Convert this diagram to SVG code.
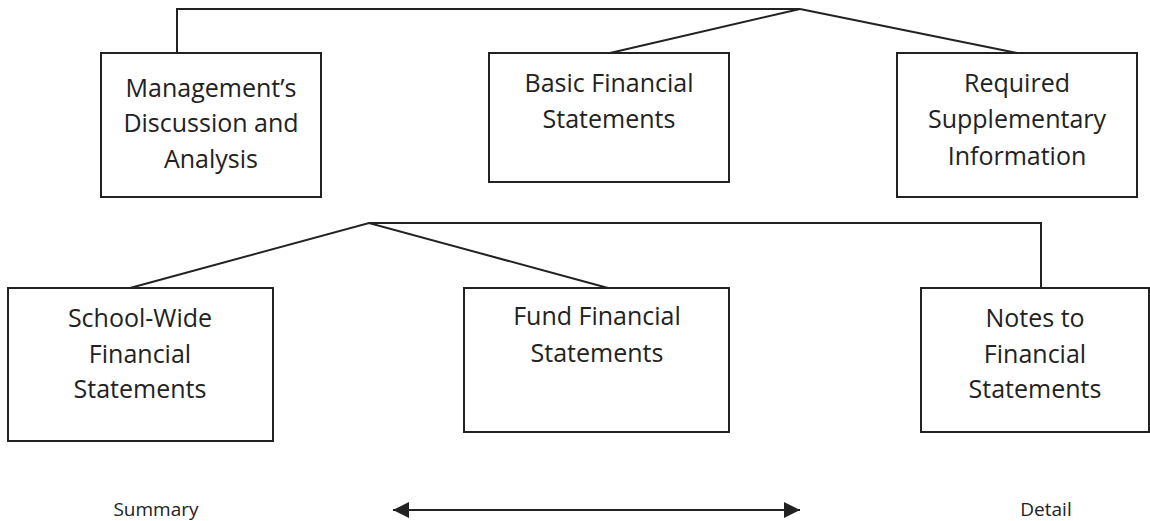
<svg xmlns="http://www.w3.org/2000/svg" width="1150" height="521" viewBox="0 0 1150 521">
<defs>
<style>
.box{fill:#fff;stroke:#222;stroke-width:2}
.ln{fill:none;stroke:#222;stroke-width:2}
.t{font-family:"Open Sans","Liberation Sans",sans-serif;font-size:25px;fill:#222;text-anchor:middle}
.s{font-family:"Open Sans","Liberation Sans",sans-serif;font-size:19px;fill:#222;text-anchor:middle}
</style>
<marker id="ah" viewBox="0 0 16 16" refX="16" refY="8" markerWidth="16" markerHeight="16" markerUnits="userSpaceOnUse" orient="auto-start-reverse">
<path d="M0,0 L16,8 L0,16 Z" fill="#222"/>
</marker>
</defs>
<rect width="1150" height="521" fill="#fff"/>
<g id="connectors">
<polyline class="ln" points="177,53 177,9 800,9 610,53"/>
<line class="ln" x1="800" y1="9" x2="1017" y2="53"/>
<polyline class="ln" points="130,288 369,223 608,288"/>
<polyline class="ln" points="369,223 1041,223 1041,288"/>
<line class="ln" x1="393" y1="510" x2="800" y2="510" marker-start="url(#ah)" marker-end="url(#ah)"/>
</g>
<g id="mda">
<rect class="box" x="101" y="53" width="220" height="144"/>
<text class="t" x="211" y="97">Management’s</text>
<text class="t" x="211" y="132">Discussion and</text>
<text class="t" x="211" y="168">Analysis</text>
</g>
<g id="bfs">
<rect class="box" x="489" y="53" width="240" height="129"/>
<text class="t" x="609" y="92">Basic Financial</text>
<text class="t" x="609" y="128">Statements</text>
</g>
<g id="rsi">
<rect class="box" x="897" y="53" width="240" height="144"/>
<text class="t" x="1017" y="92">Required</text>
<text class="t" x="1017" y="128">Supplementary</text>
<text class="t" x="1017" y="165">Information</text>
</g>
<g id="swfs">
<rect class="box" x="8" y="288" width="265" height="153"/>
<text class="t" x="140" y="327">School-Wide</text>
<text class="t" x="140" y="363">Financial</text>
<text class="t" x="140" y="398">Statements</text>
</g>
<g id="ffs">
<rect class="box" x="464" y="288" width="265" height="144"/>
<text class="t" x="597" y="325">Fund Financial</text>
<text class="t" x="597" y="362">Statements</text>
</g>
<g id="nfs">
<rect class="box" x="921" y="288" width="228" height="144"/>
<text class="t" x="1035" y="327">Notes to</text>
<text class="t" x="1035" y="363">Financial</text>
<text class="t" x="1035" y="398">Statements</text>
</g>
<g id="scale">
<text class="s" x="156" y="516">Summary</text>
<text class="s" x="1046" y="516">Detail</text>
</g>
</svg>
